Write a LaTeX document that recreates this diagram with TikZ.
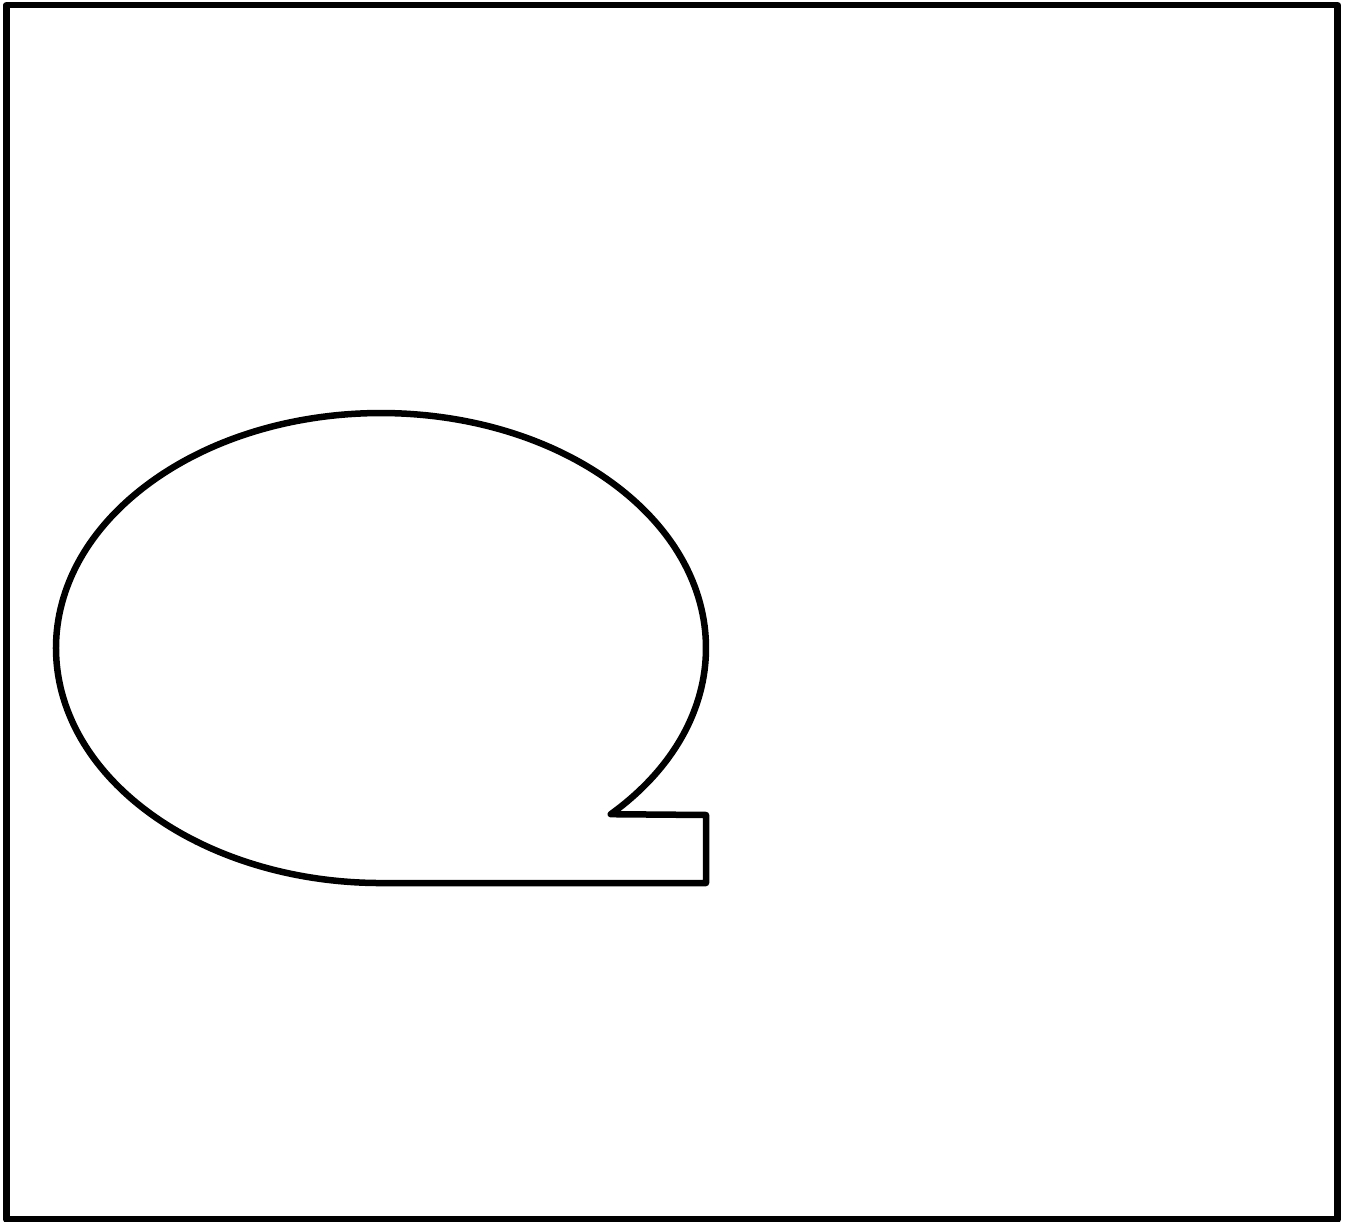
\documentclass[tikz,border=0pt]{standalone}
\begin{document}
\begin{tikzpicture}[x=1pt,y=1pt,line join=round,
  outline/.style={draw=black,line width=6.5pt}]
\useasboundingbox (0,0) rectangle (1345,-1222);
\draw[outline] (6.5,-5) rectangle (1337.5,-1219.5);
\draw[outline] (610.8,-814.2) arc[start angle=-45,end angle=270,x radius=325,y radius=235]
  -- (706,-883) -- (706,-815) -- cycle;
\end{tikzpicture}
\end{document}
